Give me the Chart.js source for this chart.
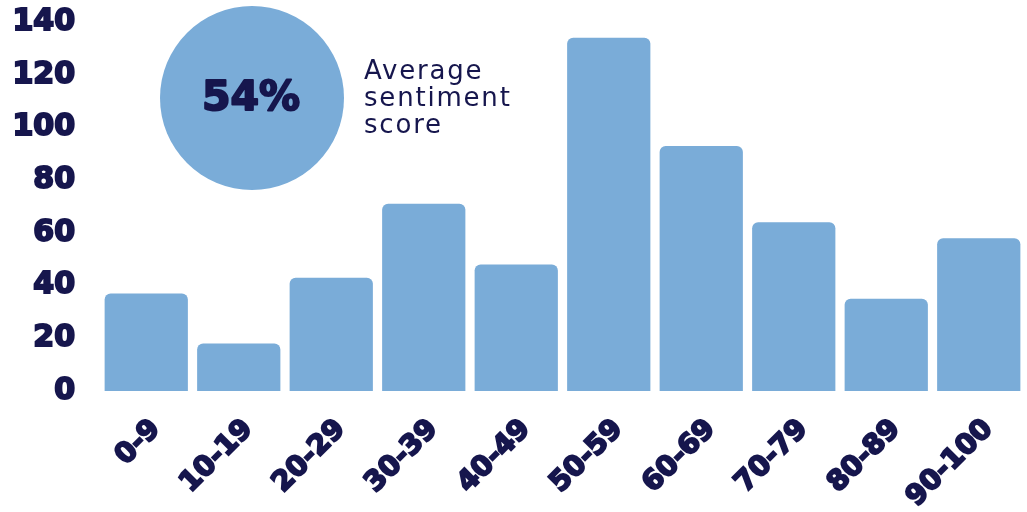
<!DOCTYPE html>
<html>
<head>
<meta charset="utf-8">
<script src="https://cdn.jsdelivr.net/npm/chart.js@4/dist/chart.umd.min.js"></script>
<style>
  html, body { margin: 0; padding: 0; background: #fff; }
  #wrap { width: 1027px; height: 512px; position: relative; }
</style>
</head>
<body>
<div id="wrap"><canvas id="chart"></canvas></div>
<script>
const categories = ["0-9", "10-19", "20-29", "30-39", "40-49", "50-59", "60-69", "70-79", "80-89", "90-100"];
const counts = [37, 18, 43, 71, 48, 134, 93, 64, 35, 58];
const yTicks = [0, 20, 40, 60, 80, 100, 120, 140];
const averageScore = "54%";
const averageLabel = ["Average", "sentiment", "score"];

const barColor = "#7aacd8";
const navy = "#16164d";

// circle badge with the average score
const badgePlugin = {
  id: "badge",
  afterDraw(chart) {
    const ctx = chart.ctx;
    ctx.save();
    ctx.fillStyle = barColor;
    ctx.beginPath();
    ctx.arc(252, 98, 92, 0, Math.PI * 2);
    ctx.fill();

    ctx.fillStyle = navy;
    ctx.strokeStyle = navy;
    ctx.lineWidth = 2;
    ctx.lineJoin = "round";
    ctx.font = "bold 41px 'DejaVu Sans'";
    ctx.textAlign = "center";
    ctx.textBaseline = "alphabetic";
    ctx.strokeText(averageScore, 251, 110);
    ctx.fillText(averageScore, 251, 110);

    ctx.font = "26px 'DejaVu Sans'";
    ctx.letterSpacing = "1.8px";
    ctx.textAlign = "left";
    averageLabel.forEach((line, i) => ctx.fillText(line, 364, 79 + i * 27));
    ctx.restore();
  }
};

new Chart(document.getElementById("chart"), {
  type: "bar",
  data: {
    labels: categories,
    datasets: [{
      data: counts,
      backgroundColor: barColor,
      borderRadius: { topLeft: 6, topRight: 6 },
      borderSkipped: "bottom",
      categoryPercentage: 1,
      barPercentage: 0.9
    }]
  },
  options: {
    responsive: true,
    maintainAspectRatio: false,
    animation: false,
    layout: { padding: { left: 8, right: 2, top: 0, bottom: 0 } },
    plugins: { legend: { display: false }, tooltip: { enabled: false } },
    scales: {
      x: {
        grid: { display: false, drawTicks: false },
        border: { display: false },
        afterFit: (axis) => { axis.height = 121; },
        ticks: {
          color: navy,
          font: { family: "DejaVu Sans", weight: "bold", size: 28 },
          textStrokeColor: navy,
          textStrokeWidth: 2,
          maxRotation: 45,
          minRotation: 45,
          labelOffset: 10,
          padding: 22
        }
      },
      y: {
        min: 0,
        max: 140,
        grid: { display: false, drawTicks: false },
        border: { display: false },
        afterBuildTicks: (axis) => { axis.ticks = yTicks.map((v) => ({ value: v })); },
        afterFit: (axis) => {
          axis.width = 92;
          axis.paddingTop = 22;
          axis.paddingBottom = 0;
        },
        ticks: {
          color: navy,
          font: { family: "DejaVu Sans", weight: "bold", size: 30 },
          textStrokeColor: navy,
          textStrokeWidth: 2,
          padding: 25
        }
      }
    }
  },
  plugins: [badgePlugin]
});
</script>
</body>
</html>
